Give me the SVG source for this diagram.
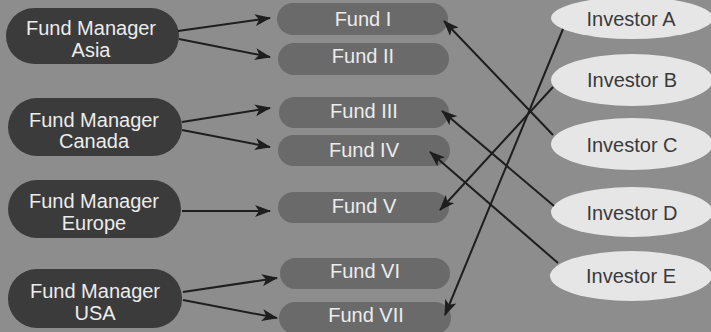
<svg xmlns="http://www.w3.org/2000/svg" width="711" height="332" viewBox="0 0 711 332">
  <style>
    .mgr rect { fill: #3b3b3b; }
    .fund rect { fill: #6a6a6a; }
    .inv ellipse { fill: #e6e6e6; }
    text { font-family: "Liberation Sans", Arial, sans-serif; font-size: 20px; text-anchor: middle; }
    .mgr text, .fund text { fill: #ececec; }
    .inv text { fill: #3a3a3a; }
    .links line { stroke: #1e1e1e; stroke-width: 2; marker-end: url(#arrow); }
  </style>
  <defs>
    <marker id="arrow" viewBox="0 0 16 12" refX="15" refY="6" markerWidth="16" markerHeight="12" markerUnits="userSpaceOnUse" orient="auto">
      <path d="M0,0 L16,6 L0,12 L4,6 Z" fill="#1e1e1e"/>
    </marker>
  </defs>

  <rect width="711" height="332" fill="#8d8d8d"/>

  <!-- fund managers -->
  <g id="mgr-asia" class="mgr">
    <rect x="6" y="8" width="173" height="56" rx="28"/>
    <text x="91" y="35">Fund Manager</text>
    <text x="91" y="57">Asia</text>
  </g>
  <g id="mgr-canada" class="mgr">
    <rect x="8" y="98" width="174" height="58" rx="29"/>
    <text x="94" y="127">Fund Manager</text>
    <text x="94" y="148">Canada</text>
  </g>
  <g id="mgr-europe" class="mgr">
    <rect x="8" y="180" width="173" height="58" rx="29"/>
    <text x="94" y="208">Fund Manager</text>
    <text x="94" y="230">Europe</text>
  </g>
  <g id="mgr-usa" class="mgr">
    <rect x="8" y="269" width="174" height="59" rx="29"/>
    <text x="95" y="298">Fund Manager</text>
    <text x="95" y="320">USA</text>
  </g>

  <!-- funds -->
  <g id="fund-1" class="fund">
    <rect x="277" y="3" width="171" height="32" rx="16"/>
    <text x="363" y="26">Fund I</text>
  </g>
  <g id="fund-2" class="fund">
    <rect x="278" y="43" width="171" height="32" rx="16"/>
    <text x="363" y="63">Fund II</text>
  </g>
  <g id="fund-3" class="fund">
    <rect x="279" y="97" width="170" height="31" rx="15.5"/>
    <text x="364" y="118">Fund III</text>
  </g>
  <g id="fund-4" class="fund">
    <rect x="278" y="135" width="172" height="31" rx="15.5"/>
    <text x="364" y="157">Fund IV</text>
  </g>
  <g id="fund-5" class="fund">
    <rect x="278" y="192" width="171" height="31" rx="15.5"/>
    <text x="364" y="213">Fund V</text>
  </g>
  <g id="fund-6" class="fund">
    <rect x="280" y="258" width="170" height="31" rx="15.5"/>
    <text x="365" y="278">Fund VI</text>
  </g>
  <g id="fund-7" class="fund">
    <rect x="279" y="302" width="172" height="32" rx="16"/>
    <text x="366" y="322">Fund VII</text>
  </g>

  <!-- investors -->
  <g id="inv-a" class="inv">
    <ellipse cx="632" cy="18" rx="81" ry="21"/>
    <text x="631" y="26">Investor A</text>
  </g>
  <g id="inv-b" class="inv">
    <ellipse cx="632" cy="80" rx="81" ry="26"/>
    <text x="632" y="87">Investor B</text>
  </g>
  <g id="inv-c" class="inv">
    <ellipse cx="632" cy="144" rx="81" ry="26"/>
    <text x="632" y="152">Investor C</text>
  </g>
  <g id="inv-d" class="inv">
    <ellipse cx="632" cy="212" rx="81" ry="25"/>
    <text x="632" y="220">Investor D</text>
  </g>
  <g id="inv-e" class="inv">
    <ellipse cx="631" cy="276" rx="81" ry="25"/>
    <text x="631" y="283">Investor E</text>
  </g>

  <!-- connectors -->
  <g id="links" class="links">
    <line x1="178" y1="31" x2="270" y2="18"/>
    <line x1="179" y1="39" x2="270" y2="57"/>
    <line x1="182" y1="122" x2="270" y2="108"/>
    <line x1="182" y1="130" x2="270" y2="147"/>
    <line x1="182" y1="211" x2="270" y2="211"/>
    <line x1="183" y1="292" x2="277" y2="278"/>
    <line x1="183" y1="300" x2="277" y2="318"/>
    <line x1="553" y1="135" x2="444" y2="21"/>
    <line x1="563" y1="29" x2="445" y2="315"/>
    <line x1="553" y1="87" x2="440" y2="210"/>
    <line x1="554" y1="206" x2="442" y2="111"/>
    <line x1="558" y1="263" x2="430" y2="152"/>
  </g>
</svg>
